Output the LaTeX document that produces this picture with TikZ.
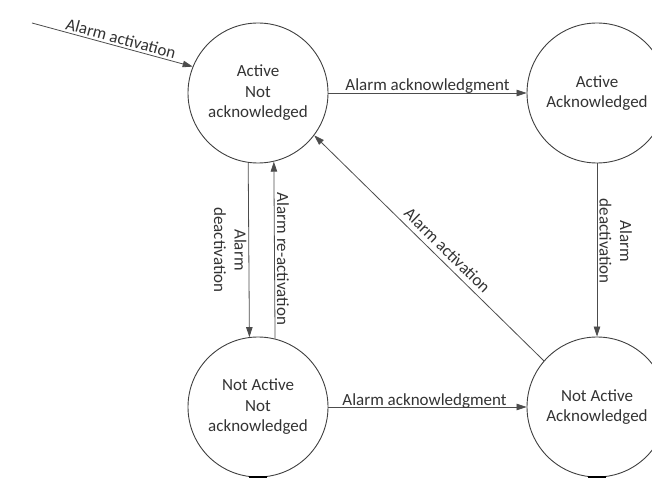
\documentclass[tikz,border=0pt]{standalone}
\usepackage{fontspec}
\setmainfont{Carlito}
\usetikzlibrary{arrows.meta,calc}
\begin{document}
\begin{tikzpicture}[x=1pt,y=-1pt,
  state/.style={circle,draw=black!75,line width=0.9pt,minimum size=140pt,
    inner sep=0pt,align=center,text=black!80,font=\fontsize{17}{20.5}\selectfont},
  trans/.style={draw=black!70,line width=0.8pt,-{Triangle[length=10pt,width=6.5pt]}},
  lbl/.style={text=black!80,font=\fontsize{17}{20.5}\selectfont,inner sep=2pt},
  stub/.style={line width=3.5pt,black}]
\useasboundingbox (0,0) rectangle (652,478);
\clip (0,0) rectangle (652,478);

% alarm states
\node[state] (ana)  at (258,93)  {Active\\Not\\acknowledged};
\node[state] (aa)   at (597,93)  {Active\\Acknowledged};
\node[state] (nana) at (258,407) {Not Active\\Not\\acknowledged};
\node[state] (naa)  at (597,407) {Not Active\\Acknowledged};
\coordinate (start) at (32,23);

% transitions
\draw[trans] (start) -- node[lbl,sloped,above,pos=0.54] {Alarm activation} (ana.158.5);
\draw[trans] (ana.east) -- node[lbl,anchor=base,yshift=2pt,midway] {Alarm acknowledgment} (aa.west);
\draw[trans] (nana.east) -- node[lbl,anchor=base,yshift=2pt,midway,xshift=-3pt] {Alarm acknowledgment} (naa.west);
\draw[trans] (ana.262.6) -- node[lbl,rotate=-90,anchor=north,align=center,midway] {Alarm\\deactivation} (nana.97.4);
\draw[trans] (nana.76.8) -- node[lbl,rotate=-90,anchor=south,pos=0.45] {Alarm re-activation} (ana.283.2);
\draw[trans] (aa.south) -- node[lbl,rotate=-90,anchor=south,align=center,pos=0.45] {Alarm\\deactivation} (naa.north);
\draw[trans] (naa.139) -- node[lbl,sloped,above=3pt,pos=0.455] {Alarm activation} (ana.323);

% outgoing stubs at the lower edge
\draw[stub] ($(nana.south)+(-9,0)$) -- ($(nana.south)+(9,0)$);
\draw[stub] ($(naa.south)+(-9,0)$) -- ($(naa.south)+(9,0)$);
\end{tikzpicture}
\end{document}
